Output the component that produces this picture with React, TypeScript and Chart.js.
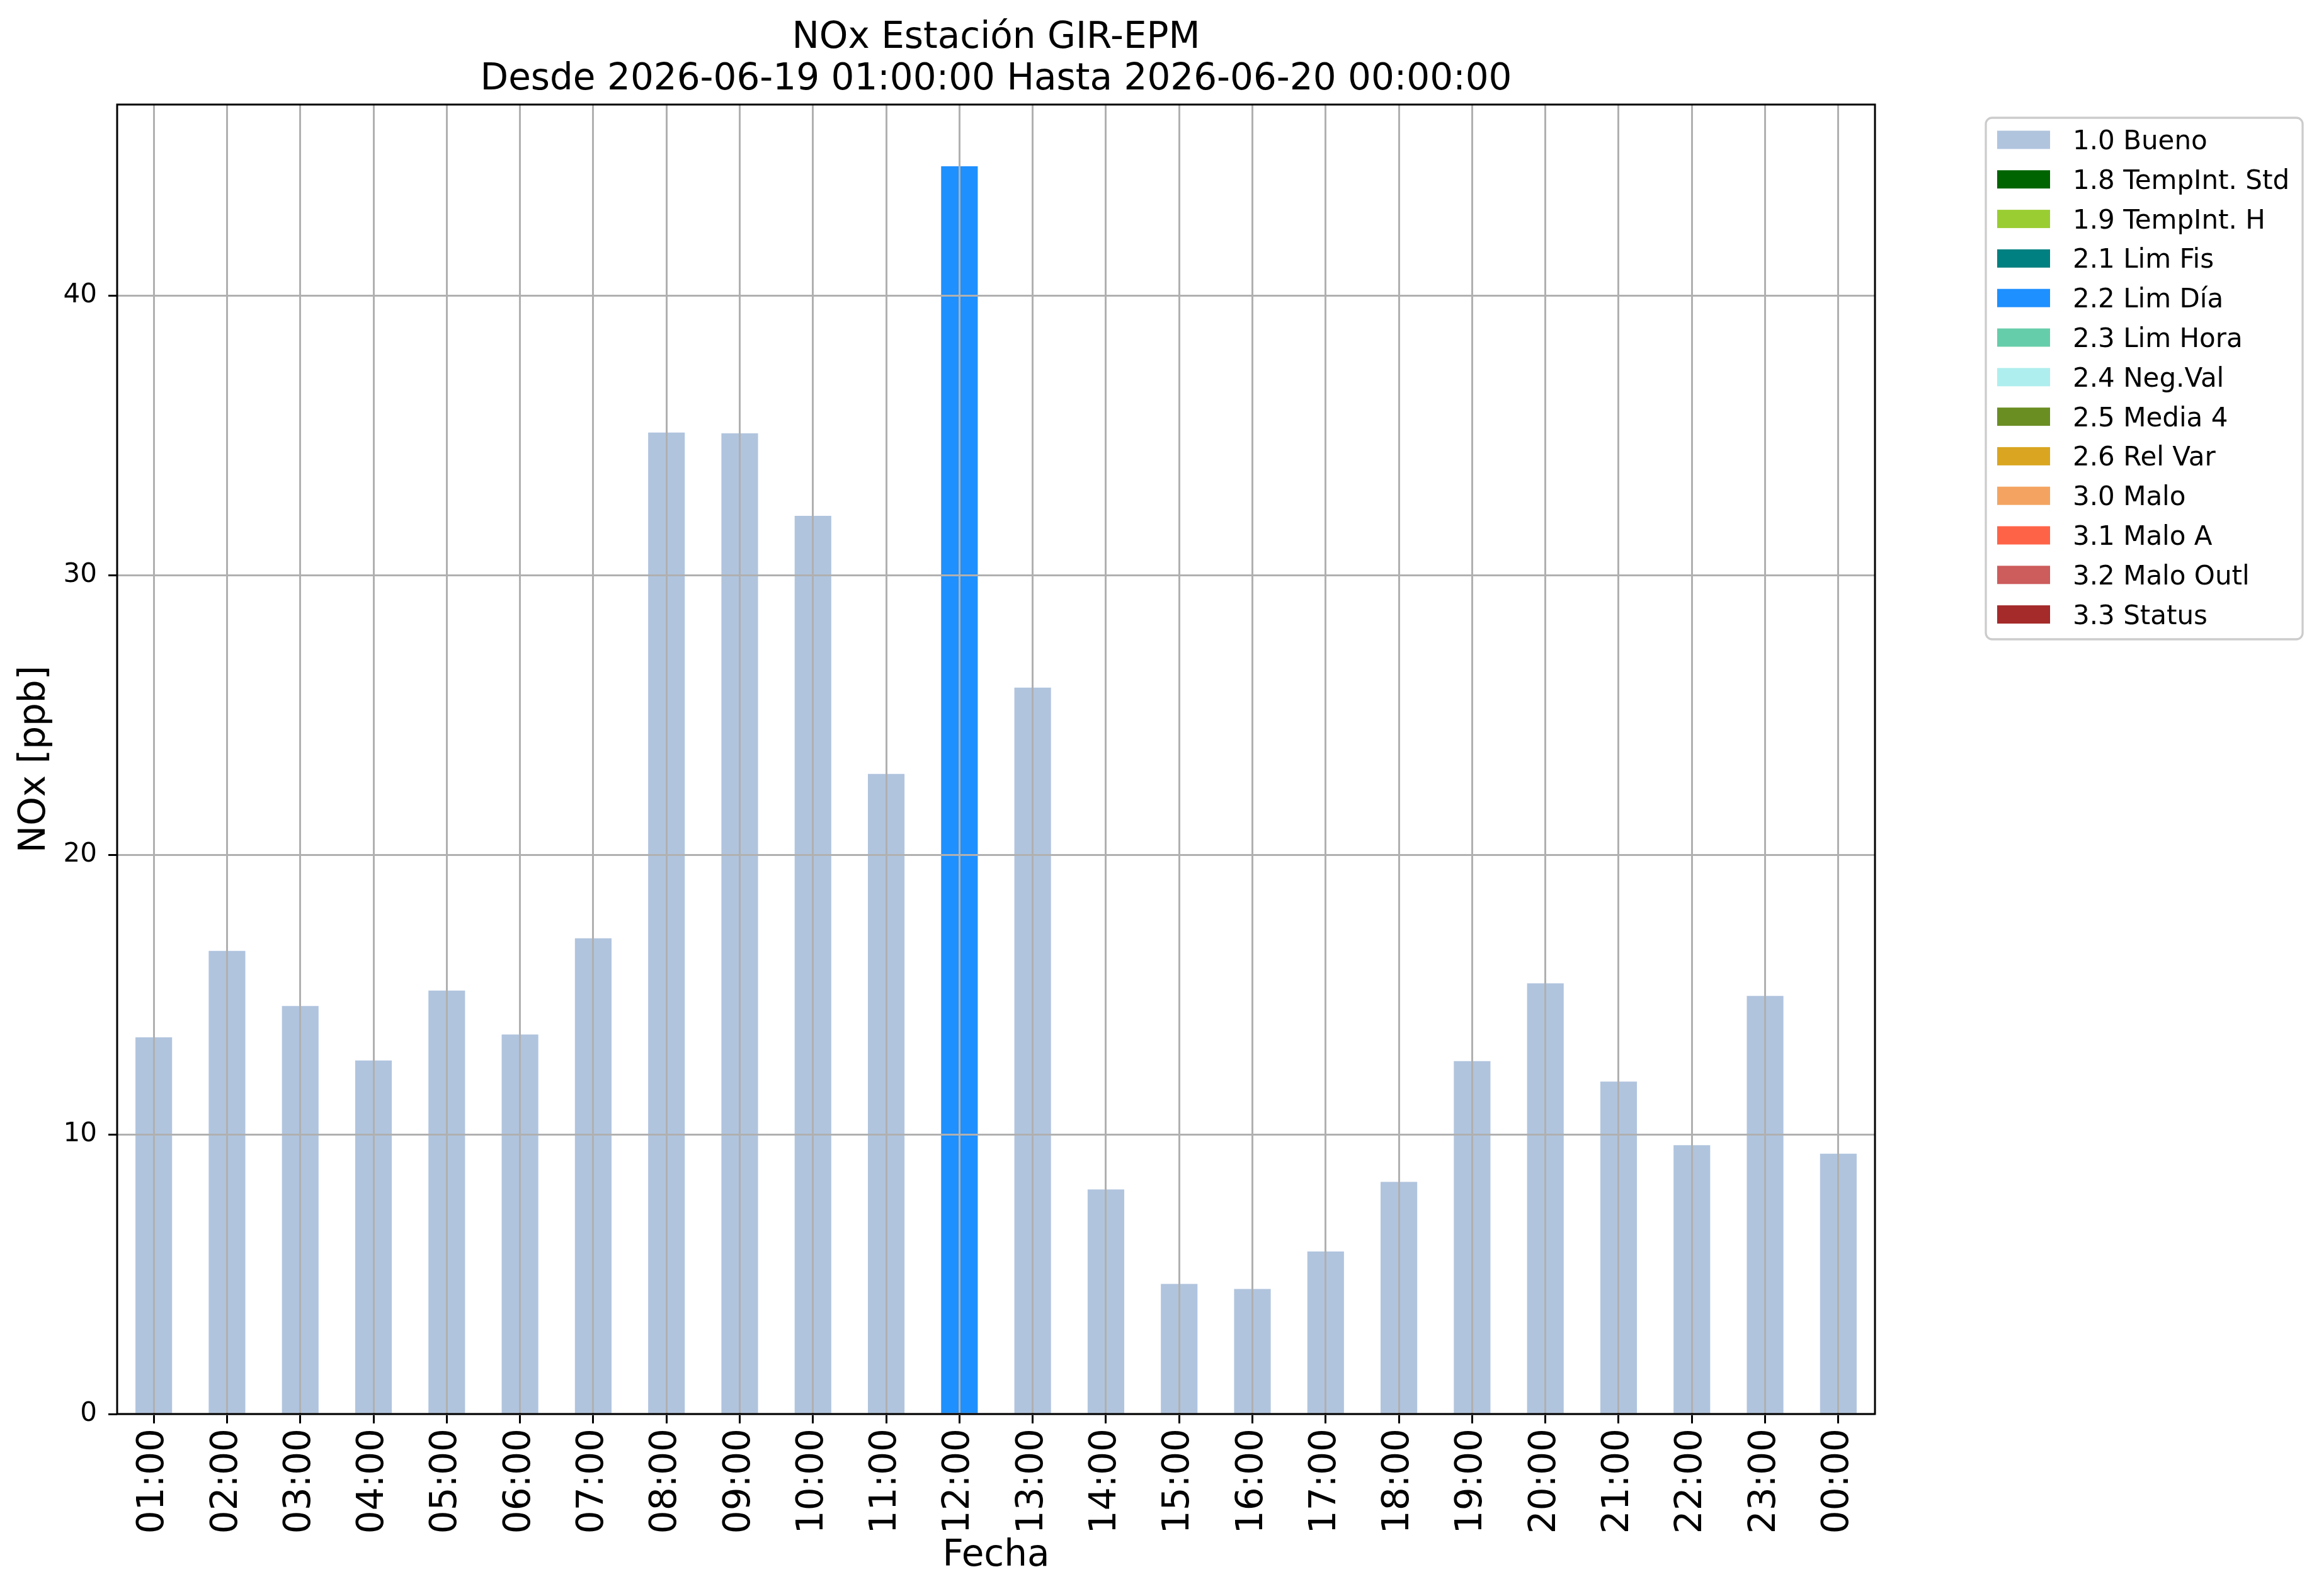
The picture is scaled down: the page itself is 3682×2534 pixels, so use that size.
import React, { useEffect, useRef } from 'react'
import { Chart, registerables } from 'chart.js'

Chart.register(...registerables)

const familia = "'DejaVu Sans', sans-serif"

const titulo = ['NOx Estación GIR-EPM', 'Desde 2026-06-19 01:00:00 Hasta 2026-06-20 00:00:00']

const horas = [
    '01:00', '02:00', '03:00', '04:00', '05:00', '06:00', '07:00', '08:00',
    '09:00', '10:00', '11:00', '12:00', '13:00', '14:00', '15:00', '16:00',
    '17:00', '18:00', '19:00', '20:00', '21:00', '22:00', '23:00', '00:00',
]

// NOx [ppb] por hora
const nox = [
    13.47, 16.56, 14.59, 12.64, 15.14, 13.57, 17.01, 35.10,
    35.07, 32.12, 22.89, 44.62, 25.98, 8.03, 4.65, 4.47,
    5.81, 8.30, 12.62, 15.40, 11.89, 9.61, 14.95, 9.31,
]

// bandera de calidad de cada hora
const banderas = [
    '1.0', '1.0', '1.0', '1.0', '1.0', '1.0', '1.0', '1.0',
    '1.0', '1.0', '1.0', '2.2', '1.0', '1.0', '1.0', '1.0',
    '1.0', '1.0', '1.0', '1.0', '1.0', '1.0', '1.0', '1.0',
]

const codigos = ['1.0', '1.8', '1.9', '2.1', '2.2', '2.3', '2.4', '2.5', '2.6', '3.0', '3.1', '3.2', '3.3']
const nombres = [
    '1.0 Bueno', '1.8 TempInt. Std', '1.9 TempInt. H', '2.1 Lim Fis', '2.2 Lim Día',
    '2.3 Lim Hora', '2.4 Neg.Val', '2.5 Media 4', '2.6 Rel Var', '3.0 Malo',
    '3.1 Malo A', '3.2 Malo Outl', '3.3 Status',
]
const colores = [
    '#B0C4DE', '#006400', '#9ACD32', '#008080', '#1E90FF', '#66CDAA', '#AFEEEE',
    '#6B8E23', '#DAA520', '#F4A460', '#FF6347', '#CD5C5C', '#A52A2A',
]

const yMax = 46.83

const marcoPlugin = {
    id: 'marco',
    afterDraw(chart: any) {
        const { ctx, chartArea: a } = chart
        ctx.save()

        // marco de los ejes
        ctx.strokeStyle = '#000'
        ctx.lineWidth = 3
        ctx.strokeRect(a.left, a.top, a.right - a.left, a.bottom - a.top)

        // titulo
        ctx.fillStyle = '#000'
        ctx.font = `58px ${familia}`
        ctx.textAlign = 'center'
        ctx.textBaseline = 'alphabetic'
        titulo.forEach((t, i) => ctx.fillText(t, (a.left + a.right) / 2, 76 + i * 66))

        // leyenda
        const lx = a.right + 176
        const ly = 187
        ctx.beginPath()
        ctx.roundRect(lx, ly, 503, 828, 10)
        ctx.fillStyle = 'rgba(255,255,255,0.8)'
        ctx.fill()
        ctx.strokeStyle = '#cccccc'
        ctx.lineWidth = 3.3
        ctx.stroke()

        ctx.font = `42px ${familia}`
        ctx.textAlign = 'left'
        chart.data.datasets.forEach((ds: any, i: number) => {
            const cy = ly + 35 + i * 62.8
            ctx.fillStyle = ds.backgroundColor
            ctx.fillRect(lx + 18, cy - 14.5, 84, 29)
            ctx.fillStyle = '#000'
            ctx.fillText(ds.label, lx + 138, cy + 15)
        })

        ctx.restore()
    },
}

const App: React.FunctionComponent = () => {

    const chartRef = useRef<HTMLCanvasElement>(null)

    useEffect(() => {
        document.body.style.margin = '0'

        const chartCtx = chartRef.current!.getContext('2d') as CanvasRenderingContext2D

        const grid = {
            offset: false,
            z: 1,
            color: '#b0b0b0',
            lineWidth: 3,
            tickColor: '#000',
            tickWidth: 3,
        }

        const newChart = new Chart(chartCtx, {
            type: 'bar',
            data: {
                labels: horas,
                datasets: codigos.map((c, k) => ({
                    label: nombres[k],
                    backgroundColor: colores[k],
                    data: nox.map((v, i) => (banderas[i] === c ? v : null)),
                    barPercentage: 0.5,
                    categoryPercentage: 1,
                })),
            },
            options: {
                responsive: false,
                animation: false,
                devicePixelRatio: 1,
                layout: {
                    padding: { top: 166, right: 705, left: 0, bottom: 0 },
                },
                plugins: {
                    legend: { display: false },
                    title: { display: false },
                    tooltip: { enabled: false },
                },
                scales: {
                    x: {
                        stacked: true,
                        z: 1,
                        grid: { ...grid, tickLength: 15 },
                        border: { display: false },
                        ticks: {
                            font: { size: 58, family: familia },
                            color: '#000',
                            minRotation: 90,
                            maxRotation: 90,
                            padding: 8,
                            autoSkip: false,
                        },
                        title: {
                            display: true,
                            text: 'Fecha',
                            font: { size: 58, family: familia },
                            color: '#000',
                            padding: { top: 0, bottom: 28 },
                        },
                        afterFit: (s: any) => { s.height = 289 },
                    },
                    y: {
                        stacked: true,
                        min: 0,
                        max: yMax,
                        z: 1,
                        grid: { ...grid, tickLength: 14 },
                        border: { display: false },
                        ticks: {
                            stepSize: 10,
                            includeBounds: false,
                            font: { size: 42, family: familia },
                            color: '#000',
                            padding: 18,
                        },
                        title: {
                            display: true,
                            text: 'NOx [ppb]',
                            font: { size: 58, family: familia },
                            color: '#000',
                            padding: { top: 21, bottom: 10 },
                        },
                        afterFit: (s: any) => { s.width = 186 },
                    },
                },
            },
            plugins: [marcoPlugin],
        })

        return () => {
            newChart.destroy()
        }
    }, [])

    return (
        <div style={{ width: 3682, height: 2534, background: '#fff' }}>
            <canvas ref={chartRef} width={3682} height={2534} style={{ display: 'block' }}></canvas>
        </div>
    )
}

export default App
